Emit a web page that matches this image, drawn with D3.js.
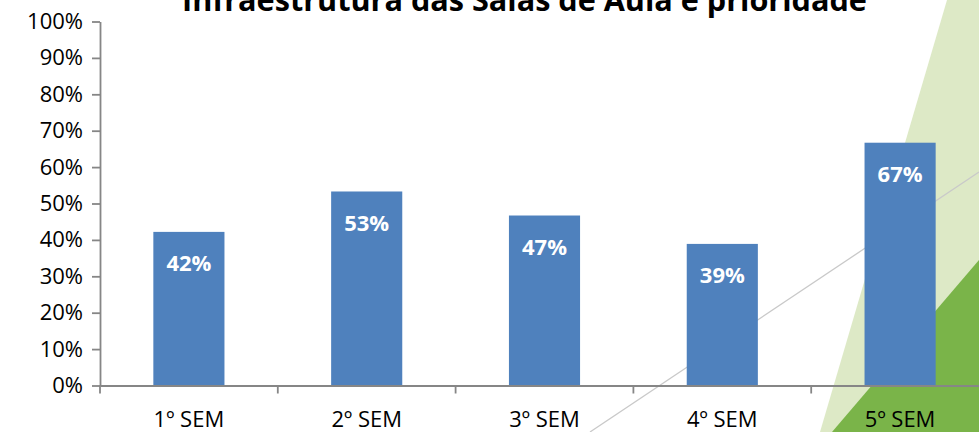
<!DOCTYPE html>
<html>
<head>
<meta charset="utf-8">
<script src="https://cdn.jsdelivr.net/npm/d3@7"></script>
<style>
  body { margin: 0; background: #fff; }
  svg { display: block; font-family: "Open Sans", "Liberation Sans", sans-serif; }
</style>
</head>
<body>
<div class="bar-chart"></div>
<script>
var categories = ['1º SEM', '2º SEM', '3º SEM', '4º SEM', '5º SEM'],
    values = [0.422, 0.533, 0.467, 0.389, 0.667],
    yTicks = [0, 0.1, 0.2, 0.3, 0.4, 0.5, 0.6, 0.7, 0.8, 0.9, 1],
    title = 'Infraestrutura das Salas de Aula é prioridade';

var width = 979,
    height = 432,
    margin = { top: 21.5, right: -10, bottom: 46.5, left: 100 },
    barColor = '#4f81bd',
    axisColor = '#868686',
    lightGreen = '#dde9c6',
    darkGreen = '#7ab449';

var svg = d3.select('.bar-chart').append('svg')
    .attr('width', width)
    .attr('height', height);

// decoration behind the chart
svg.append('polygon')
    .attr('points', '947,0 979,0 979,432 820,432')
    .attr('fill', lightGreen);
svg.append('polygon')
    .attr('points', '979,260 979,432 832,432')
    .attr('fill', darkGreen);
svg.append('line')
    .attr('x1', 590).attr('y1', 432)
    .attr('x2', 979).attr('y2', 172)
    .attr('stroke', '#c9c9c9')
    .attr('stroke-width', 1.3);

var x = d3.scaleBand()
    .domain(categories)
    .range([margin.left, width - margin.right])
    .paddingInner(0.6)
    .paddingOuter(0.3);

var y = d3.scaleLinear()
    .domain([0, 1])
    .range([height - margin.bottom, margin.top]);

// bars
svg.append('g')
    .selectAll('rect')
    .data(values)
    .enter().append('rect')
    .attr('x', function (d, i) { return x(categories[i]); })
    .attr('y', function (d) { return y(d); })
    .attr('width', x.bandwidth())
    .attr('height', function (d) { return y(0) - y(d); })
    .attr('fill', barColor);

// y axis
var yAxis = svg.append('g')
    .attr('transform', 'translate(' + margin.left + ',0)')
    .call(d3.axisLeft(y).tickValues(yTicks).tickFormat(d3.format('.0%'))
        .tickSize(8).tickSizeOuter(0).tickPadding(9));
yAxis.selectAll('text').attr('font-size', 22).attr('fill', '#000')
    .attr('font-family', '"Open Sans", sans-serif');

// x axis
var xAxis = svg.append('g')
    .attr('transform', 'translate(0,' + y(0) + ')')
    .call(d3.axisBottom(x).tickSize(0).tickSizeOuter(0));
xAxis.selectAll('.tick text')
    .attr('dy', null)
    .attr('y', 41.5)
    .attr('font-size', 22)
    .attr('fill', '#000')
    .attr('font-family', '"Open Sans", sans-serif');

// category separators
var gap = (x.step() - x.bandwidth()) / 2;
var bounds = categories.map(function (c) { return x(c) - gap; });
bounds.push(x(categories[categories.length - 1]) + x.bandwidth() + gap);
xAxis.selectAll('.sep')
    .data(bounds)
    .enter().append('line')
    .attr('class', 'sep')
    .attr('x1', function (d) { return d; })
    .attr('x2', function (d) { return d; })
    .attr('y1', 0).attr('y2', 8);

svg.selectAll('.domain, .tick line, .sep')
    .attr('stroke', axisColor)
    .attr('stroke-width', 1.8);

// value labels
svg.append('g')
    .selectAll('text')
    .data(values)
    .enter().append('text')
    .attr('x', function (d, i) { return x(categories[i]) + x.bandwidth() / 2; })
    .attr('y', function (d) { return y(d) + 39.5; })
    .attr('text-anchor', 'middle')
    .attr('font-size', 22)
    .attr('font-weight', 'bold')
    .attr('fill', '#fff')
    .text(function (d) { return Math.round(d * 100) + '%'; });

// title, partly cut off at the top like the original
var t = svg.append('text')
    .attr('x', 524.5)
    .attr('y', 11)
    .attr('text-anchor', 'middle')
    .attr('font-weight', 'bold')
    .attr('font-size', 30)
    .attr('fill', '#000')
    .text(title);
var w = t.node().getComputedTextLength();
t.attr('font-size', 30 * 685 / w);
</script>
</body>
</html>
